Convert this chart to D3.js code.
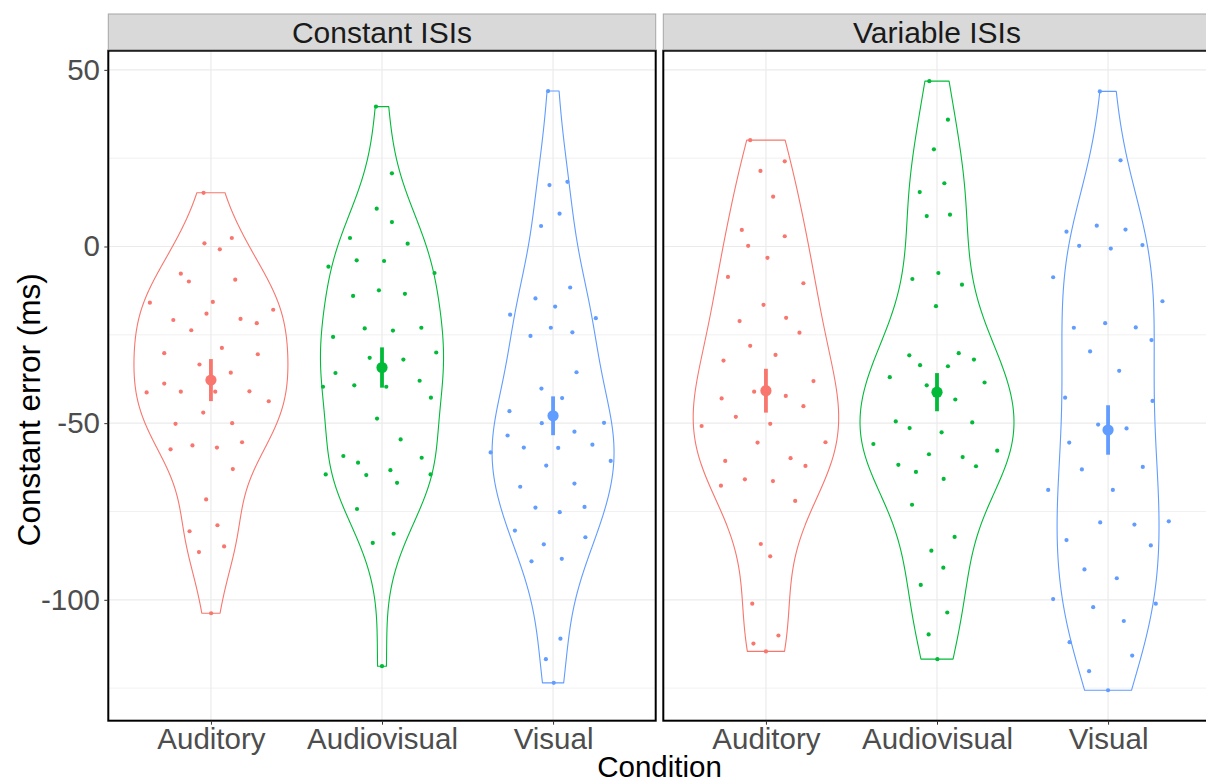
<!DOCTYPE html>
<html>
<head>
<meta charset="utf-8">
<script src="https://cdn.jsdelivr.net/npm/d3@7"></script>
<style>
  body { margin: 0; background: #fff; }
  svg { display: block; }
  text { font-family: "Liberation Sans", Arial, Helvetica, sans-serif; }
</style>
</head>
<body>
<svg id="chart" width="1206" height="781"></svg>
<script>
// ---- data ----
const facets = ["Constant ISIs", "Variable ISIs"];
const conditions = ["Auditory", "Audiovisual", "Visual"];
const yTicks = [50, 0, -50, -100];
const yTickLabels = ["50", "0", "-50", "-100"];
const yMinorTicks = [25, -25, -75, -125];

// constant error (ms) per participant
const constAuditory = [15.2, 2.4, 0.9, -0.8, -7.7, -9.9, -9.4, -15.9, -15.7, -19.0, -17.9, -20.8, -20.5, -21.7, -23.7, -28.7, -30.2, -30.5, -33.4, -35.7, -38.8, -41.3, -41.1, -41.1, -41.0, -43.8, -47.0, -50.2, -50.0, -57.4, -56.3, -56.9, -55.4, -63.0, -71.6, -80.6, -78.9, -86.5, -84.9, -103.8];
const constAudiovisual = [39.6, 20.7, 10.7, 6.9, 2.4, 0.8, -5.7, -3.9, -4.1, -7.5, -14.0, -12.4, -13.4, -23.2, -23.8, -23.0, -25.6, -30.0, -31.5, -32.0, -35.8, -39.7, -39.3, -39.7, -38.0, -42.8, -48.7, -54.6, -59.3, -61.2, -59.8, -64.5, -64.7, -63.3, -66.9, -64.5, -74.3, -81.3, -83.9, -118.8];
const constVisual = [44.0, 17.4, 18.3, 9.3, 5.8, -11.6, -14.7, -17.0, -19.3, -20.3, -23.0, -25.3, -24.3, -35.6, -40.2, -42.9, -46.6, -50.0, -49.9, -53.5, -52.4, -58.3, -56.9, -57.0, -56.1, -60.7, -62.0, -68.0, -67.1, -73.9, -75.2, -73.7, -80.4, -82.3, -84.3, -89.1, -88.4, -111.0, -116.8, -123.5];
const varAuditory = [30.1, 24.1, 21.4, 14.1, 4.7, 2.9, 0.2, -3.2, -8.6, -10.4, -16.5, -21.1, -20.2, -24.4, -28.1, -32.3, -30.7, -38.1, -41.1, -42.3, -43.0, -45.2, -48.2, -50.2, -50.8, -55.5, -55.4, -60.7, -59.9, -62.1, -65.9, -66.4, -67.7, -72.0, -84.2, -87.7, -101.1, -110.1, -112.4, -114.6];
const varAudiovisual = [46.8, 35.9, 27.5, 17.9, 15.4, 8.6, 9.0, -9.2, -7.5, -10.8, -16.9, -30.8, -30.2, -32.0, -33.6, -33.9, -37.0, -38.5, -39.3, -43.3, -49.5, -49.8, -51.4, -52.6, -55.9, -57.8, -58.8, -59.6, -61.8, -62.2, -63.8, -65.8, -73.1, -82.2, -86.1, -90.9, -95.8, -103.6, -109.8, -116.8];
const varVisual = [43.9, 24.4, 4.2, 5.9, 4.8, 0.2, -0.6, 0.4, -8.7, -15.5, -23.0, -21.7, -22.9, -26.5, -29.7, -35.2, -42.8, -43.7, -50.4, -51.5, -55.5, -63.1, -62.4, -68.9, -68.9, -78.1, -78.7, -77.8, -83.1, -84.6, -91.4, -93.9, -99.8, -101.1, -102.1, -106.0, -112.0, -115.8, -120.2, -125.6];

// horizontal jitter of each point, in category units
const jitterConstAuditory = [-0.043, 0.122, -0.038, 0.052, -0.176, -0.129, 0.142, -0.357, 0.011, -0.026, 0.364, -0.220, 0.173, 0.268, -0.115, 0.064, -0.273, 0.274, -0.067, 0.116, -0.273, -0.376, -0.176, 0.025, 0.225, 0.338, -0.045, -0.207, 0.124, -0.236, -0.108, 0.035, 0.182, 0.128, -0.028, -0.125, 0.038, -0.070, 0.077, 0.001];
const jitterConstAudiovisual = [-0.035, 0.058, -0.031, 0.058, -0.187, 0.150, -0.313, -0.148, 0.012, 0.307, -0.169, -0.018, 0.134, -0.101, 0.064, 0.230, -0.286, 0.317, -0.072, 0.125, -0.272, -0.345, -0.162, 0.025, 0.220, 0.286, -0.029, 0.109, -0.226, -0.140, 0.232, -0.329, -0.092, 0.049, 0.088, 0.284, -0.146, 0.068, -0.054, 0.000];
const jitterConstVisual = [-0.029, -0.021, 0.084, 0.038, -0.070, 0.100, -0.103, 0.012, -0.251, 0.250, -0.013, -0.132, 0.113, 0.137, -0.068, 0.053, -0.255, -0.066, 0.298, -0.266, 0.125, -0.365, -0.171, 0.030, 0.230, 0.337, -0.040, -0.192, 0.125, -0.103, 0.039, 0.184, -0.223, 0.189, -0.054, -0.126, 0.051, 0.043, -0.042, 0.004];
const jitterVarAuditory = [-0.092, 0.110, -0.032, 0.042, -0.141, 0.110, -0.104, 0.009, -0.222, 0.219, -0.014, -0.154, 0.118, 0.196, -0.092, -0.248, 0.056, 0.278, -0.069, 0.116, -0.259, 0.219, -0.176, 0.025, -0.376, -0.049, 0.348, -0.238, 0.144, 0.231, -0.123, 0.041, -0.263, 0.171, -0.030, 0.025, -0.080, 0.073, -0.073, 0.000];
const jitterVarAudiovisual = [-0.045, 0.064, -0.018, 0.043, -0.101, -0.060, 0.076, -0.144, 0.008, 0.146, -0.006, -0.162, 0.127, 0.216, -0.099, 0.064, -0.276, 0.278, -0.060, 0.107, -0.241, 0.206, -0.160, 0.027, -0.372, 0.352, -0.047, 0.150, -0.226, 0.228, -0.123, 0.039, -0.146, 0.103, -0.033, 0.037, -0.095, 0.060, -0.049, 0.002];
const jitterVarVisual = [-0.048, 0.073, -0.243, -0.066, 0.102, -0.169, 0.016, 0.201, -0.321, 0.318, -0.200, -0.017, 0.162, 0.254, -0.105, 0.065, -0.251, 0.260, -0.058, 0.108, -0.227, -0.153, 0.203, -0.350, 0.028, -0.046, 0.154, 0.355, -0.243, 0.250, -0.138, 0.051, -0.321, 0.279, -0.087, 0.092, -0.225, 0.141, -0.111, 0.000];

// half-length of the interval drawn around each mean (ms)
const errConstant = [5.95, 5.7, 5.5];
const errVariable = [6.2, 5.4, 7.0];

// ---- assemble groups ----
const seriesByFacet = [
  [constAuditory, constAudiovisual, constVisual],
  [varAuditory, varAudiovisual, varVisual]
];
const jitterByFacet = [
  [jitterConstAuditory, jitterConstAudiovisual, jitterConstVisual],
  [jitterVarAuditory, jitterVarAudiovisual, jitterVarVisual]
];
const errByFacet = [errConstant, errVariable];

const palette = ["#F8766D", "#00BA38", "#619CFF"];
const FONT = "Liberation Sans, Arial, sans-serif";

// ---- layout ----
const svg = d3.select("#chart");
const panelTop = 50.7, panelBottom = 720.7, panelW = 547.4;
const panelLeft = [108.3, 663.3];
const stripTop = 14;

// y scale with 5% expansion of the data range
const allVals = seriesByFacet.flat(2);
const [dMin, dMax] = d3.extent(allVals);
const pad = (dMax - dMin) * 0.05;
const y = d3.scaleLinear().domain([dMin - pad, dMax + pad]).range([panelBottom, panelTop]);

// Gaussian kernel density, bandwidth by Silverman's rule (nrd0), trimmed to data range
function bwNrd0(v) {
  const s = v.slice().sort(d3.ascending);
  const sd = d3.deviation(s);
  const iqr = d3.quantileSorted(s, 0.75) - d3.quantileSorted(s, 0.25);
  let lo = Math.min(sd, iqr / 1.34);
  if (!(lo > 0)) lo = sd || Math.abs(s[0]) || 1;
  return 0.9 * lo * Math.pow(s.length, -0.2);
}
function kde(v, n = 512) {
  const bw = bwNrd0(v);
  const [lo, hi] = d3.extent(v);
  const out = [];
  const c = 1 / (v.length * bw * Math.sqrt(2 * Math.PI));
  for (let i = 0; i < n; i++) {
    const t = lo + (hi - lo) * i / (n - 1);
    let s = 0;
    for (const xi of v) { const u = (t - xi) / bw; s += Math.exp(-0.5 * u * u); }
    out.push({ y: t, d: s * c });
  }
  return out;
}

facets.forEach((facet, fi) => {
  const x0 = panelLeft[fi], x1 = x0 + panelW;
  const x = d3.scalePoint().domain(conditions).range([x0, x1]).padding(0.6);
  const step = x.step();
  const g = svg.append("g");

  // panel background + grid
  g.append("rect").attr("x", x0).attr("y", panelTop).attr("width", panelW)
    .attr("height", panelBottom - panelTop).attr("fill", "#fff");
  g.selectAll(".minor").data(yMinorTicks).join("line")
    .attr("x1", x0).attr("x2", x1).attr("y1", d => y(d)).attr("y2", d => y(d))
    .attr("stroke", "#EBEBEB").attr("stroke-width", 0.7);
  g.selectAll(".major").data(yTicks).join("line")
    .attr("x1", x0).attr("x2", x1).attr("y1", d => y(d)).attr("y2", d => y(d))
    .attr("stroke", "#EBEBEB").attr("stroke-width", 1.2);
  g.selectAll(".vgrid").data(conditions).join("line")
    .attr("x1", d => x(d)).attr("x2", d => x(d)).attr("y1", panelTop).attr("y2", panelBottom)
    .attr("stroke", "#EBEBEB").attr("stroke-width", 1.2);

  // violins (area-scaled within the panel)
  const dens = seriesByFacet[fi].map(v => kde(v));
  const maxD = d3.max(dens.flat(), d => d.d);
  const halfW = 0.45 * step;
  dens.forEach((dd, ci) => {
    const cx = x(conditions[ci]);
    const area = d3.area()
      .y(d => y(d.y))
      .x0(d => cx - halfW * d.d / maxD)
      .x1(d => cx + halfW * d.d / maxD);
    g.append("path").datum(dd).attr("d", area)
      .attr("fill", "none").attr("stroke", palette[ci]).attr("stroke-width", 1.1)
      .attr("stroke-linejoin", "round");
  });

  // jittered participant points
  seriesByFacet[fi].forEach((v, ci) => {
    const cx = x(conditions[ci]);
    const jit = jitterByFacet[fi][ci];
    g.append("g").selectAll("circle").data(v).join("circle")
      .attr("cx", (d, i) => cx + jit[i] * step)
      .attr("cy", d => y(d))
      .attr("r", 2.1)
      .attr("fill", palette[ci]);
  });

  // mean with interval
  seriesByFacet[fi].forEach((v, ci) => {
    const cx = x(conditions[ci]);
    const m = d3.mean(v);
    const e = errByFacet[fi][ci];
    g.append("line").attr("x1", cx).attr("x2", cx)
      .attr("y1", y(m + e)).attr("y2", y(m - e))
      .attr("stroke", palette[ci]).attr("stroke-width", 3.8);
    g.append("circle").attr("cx", cx).attr("cy", y(m)).attr("r", 5.6).attr("fill", palette[ci]);
  });

  // panel border
  g.append("rect").attr("x", x0).attr("y", panelTop).attr("width", panelW)
    .attr("height", panelBottom - panelTop).attr("fill", "none")
    .attr("stroke", "#000").attr("stroke-width", 2);

  // strip
  g.append("rect").attr("x", x0).attr("y", stripTop).attr("width", panelW)
    .attr("height", panelTop - stripTop - 1).attr("fill", "#D9D9D9")
    .attr("stroke", "#A6A6A6").attr("stroke-width", 1);
  g.append("text").attr("x", (x0 + x1) / 2).attr("y", 43)
    .attr("text-anchor", "middle").attr("font-size", 30).attr("fill", "#1A1A1A")
    .text(facet);

  // x axis
  const xAxis = g.append("g").attr("transform", `translate(0,${panelBottom})`)
    .call(d3.axisBottom(x).tickSize(4).tickPadding(3.2));
  xAxis.select(".domain").remove();
  xAxis.selectAll(".tick line").attr("stroke", "#333").attr("stroke-width", 1);
  xAxis.selectAll(".tick text").attr("font-size", 29.5).attr("fill", "#4D4D4D")
    .attr("font-family", FONT);

  // y axis on the first panel only
  if (fi === 0) {
    const yAxis = g.append("g").attr("transform", `translate(${x0},0)`)
      .call(d3.axisLeft(y).tickValues(yTicks)
        .tickFormat((d, i) => yTickLabels[i]).tickSize(4).tickPadding(4.3));
    yAxis.select(".domain").remove();
    yAxis.selectAll(".tick line").attr("stroke", "#333").attr("stroke-width", 1);
    yAxis.selectAll(".tick text").attr("font-size", 29.5).attr("fill", "#4D4D4D")
      .attr("font-family", FONT);
  }
});

// axis titles
svg.append("text").attr("x", (panelLeft[0] + panelLeft[1] + panelW) / 2).attr("y", 776.5)
  .attr("text-anchor", "middle").attr("font-size", 29.5).attr("fill", "#000").text("Condition");
svg.append("text")
  .attr("transform", `translate(40,${(panelTop + panelBottom) / 2 + 24}) rotate(-90)`)
  .attr("text-anchor", "middle").attr("font-size", 31.5).attr("fill", "#000")
  .text("Constant error (ms)");
</script>
</body>
</html>
